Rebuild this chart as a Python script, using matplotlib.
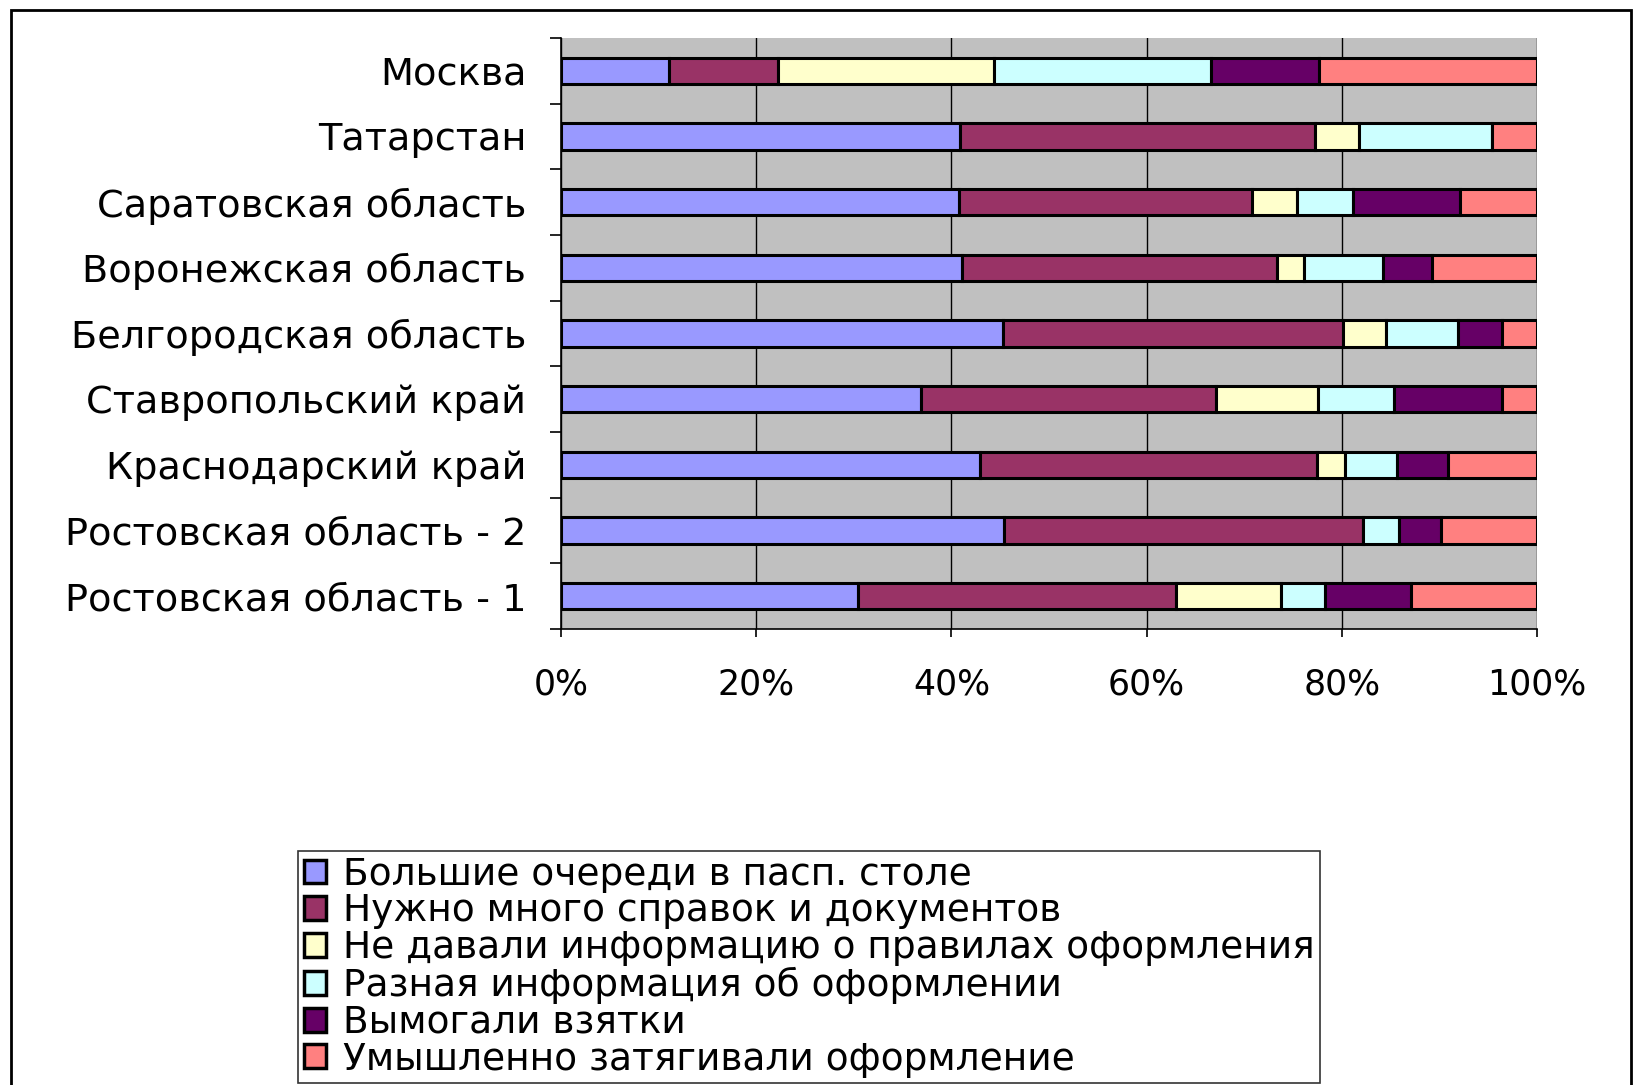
import matplotlib
matplotlib.use('Agg')
import matplotlib.pyplot as plt
from matplotlib.patches import Rectangle
from matplotlib.ticker import FixedLocator
import numpy as np

plt.rcParams['font.family'] = ['DejaVu Sans']

# regions, bottom to top as drawn
regions = ['Ростовская область - 1', 'Ростовская область - 2', 'Краснодарский край',
           'Ставропольский край', 'Белгородская область', 'Воронежская область',
           'Саратовская область', 'Татарстан', 'Москва']

series = ['Большие очереди в пасп. столе',
          'Нужно много справок и документов',
          'Не давали информацию о правилах оформления',
          'Разная информация об оформлении',
          'Вымогали взятки',
          'Умышленно затягивали оформление']

# shares in %, one list per series, same order as regions
queues    = [30.4, 45.4, 42.9, 36.9, 45.3, 41.1, 40.8, 40.9, 11.1]
documents = [32.6, 36.8, 34.6, 30.2, 34.8, 32.3, 30.0, 36.4, 11.1]
no_info   = [10.8,  0.0,  2.8, 10.5,  4.4,  2.7,  4.6,  4.5, 22.2]
diff_info = [ 4.5,  3.7,  5.4,  7.7,  7.4,  8.1,  5.7, 13.6, 22.2]
bribes    = [ 8.8,  4.3,  5.2, 11.1,  4.5,  5.0, 11.0,  0.0, 11.1]
delays    = [12.9,  9.8,  9.1,  3.6,  3.6, 10.8,  7.9,  4.6, 22.3]

xticks = [0, 20, 40, 60, 80, 100]

colors = ['#9999FF', '#993366', '#FFFFCC', '#CCFFFF', '#660066', '#FF8080']

data = np.array([queues, documents, no_info, diff_info, bribes, delays])
data = data / data.sum(axis=0) * 100

fig = plt.figure(figsize=(16.42, 10.85), dpi=100)
ax = fig.add_axes([561/1642, 1-629/1085, 976/1642, 591/1085])
ax.set_facecolor('#C0C0C0')

y = np.arange(len(regions))
left = np.zeros(len(regions))
for i in range(len(series)):
    ax.barh(y, data[i], left=left, height=0.4, color=colors[i],
            edgecolor='black', linewidth=2.2, label=series[i], zorder=3)
    left += data[i]

ax.set_xlim(0, 100)
ax.set_ylim(-0.5, len(regions) - 0.5)
ax.set_xticks(xticks)
ax.set_xticklabels(['%d%%' % v for v in xticks])
ax.grid(axis='x', color='black', linewidth=1.0, zorder=1)

ax.set_yticks(y)
ax.set_yticklabels(regions)
ax.yaxis.set_minor_locator(FixedLocator(np.arange(-0.5, len(regions), 1.0)))
ax.tick_params(axis='y', which='major', length=0, pad=25, labelsize=27.5)
ax.tick_params(axis='y', which='minor', length=8, width=1.2, color='black')
ax.tick_params(axis='x', length=6, width=1.2, pad=22, labelsize=25)

for side in ['top', 'right']:
    ax.spines[side].set_visible(False)
ax.spines['left'].set_linewidth(1.2)
ax.spines['bottom'].set_linewidth(1.2)

handles, labels = ax.get_legend_handles_labels()
leg = fig.legend(handles, labels, loc='upper left',
                 bbox_to_anchor=(298/1642, 1-851/1085),
                 fontsize=27, frameon=True, fancybox=False,
                 handlelength=0.6, handleheight=0.6, handletextpad=0.45,
                 labelspacing=0.02, borderpad=0.15, borderaxespad=0)
leg.get_frame().set_edgecolor('black')
leg.get_frame().set_linewidth(1.2)
for h in leg.legend_handles:
    h.set_linewidth(2.5)

fig.patches.append(Rectangle((11/1642, -0.01), 1620/1642, 1.01 - 10/1085,
                             transform=fig.transFigure, fill=False,
                             edgecolor='black', linewidth=2))

fig.savefig('out.png', dpi=100)
